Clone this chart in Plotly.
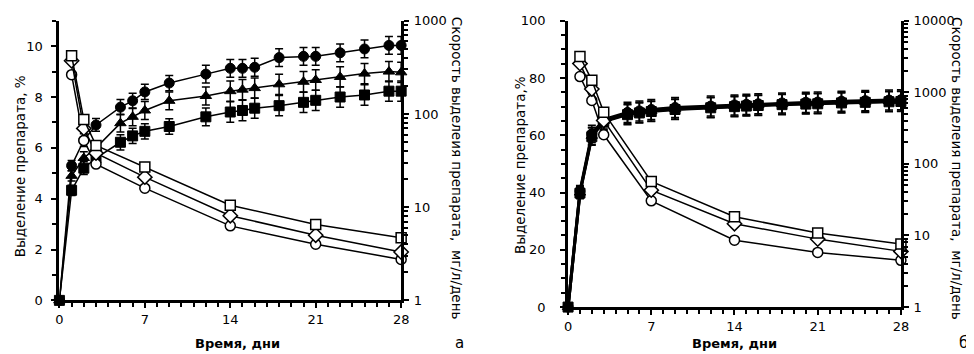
import plotly.graph_objects as go

W, H = 974, 354

# ---------------- data ----------------
days_cum = [0, 1, 2, 3, 5, 6, 7, 9, 12, 14, 15, 16, 18, 20, 21, 23, 25, 27, 28]
days_rate = [1, 2, 3, 7, 14, 21, 28]

# panel a: cumulative release, %
a_circ = [0, 5.3, 6.3, 6.9, 7.6, 7.85, 8.2, 8.55, 8.9, 9.13, 9.13, 9.17, 9.55, 9.6, 9.6, 9.74, 9.89, 10.03, 10.03]
a_tri = [0, 4.9, 5.6, 6.0, 6.97, 7.22, 7.47, 7.85, 8.04, 8.23, 8.29, 8.35, 8.5, 8.6, 8.67, 8.79, 8.92, 9.0, 8.97]
a_sq = [0, 4.33, 5.2, 5.6, 6.22, 6.47, 6.65, 6.84, 7.22, 7.41, 7.47, 7.56, 7.66, 7.79, 7.87, 8.0, 8.08, 8.23, 8.23]
a_circ_err = [0, 0.2, 0.25, 0.25, 0.3, 0.3, 0.3, 0.3, 0.35, 0.35, 0.35, 0.35, 0.35, 0.35, 0.35, 0.35, 0.35, 0.35, 0.35]
a_tri_err = [0, 0.2, 0.25, 0.25, 0.35, 0.35, 0.35, 0.35, 0.35, 0.4, 0.4, 0.4, 0.4, 0.4, 0.4, 0.4, 0.4, 0.4, 0.4]
a_sq_err = [0, 0.2, 0.25, 0.25, 0.3, 0.3, 0.3, 0.3, 0.35, 0.4, 0.4, 0.4, 0.4, 0.4, 0.4, 0.4, 0.4, 0.4, 0.4]

# panel a: release rate, mg/l/day
a_rate_sq = [422, 87, 46, 27, 10.5, 6.5, 4.7]
a_rate_dia = [372, 70, 38, 21, 8.1, 5.0, 3.3]
a_rate_circ = [264, 52, 29, 16, 6.3, 4.0, 2.75]

# panel b: cumulative release, %
b_circ = [0, 40.5, 60.5, 65.5, 68, 68.5, 69, 69.7, 70.2, 70.6, 70.8, 71, 71.3, 71.5, 71.6, 71.9, 72.1, 72.3, 72.4]
b_tri = [0, 40, 59.8, 65, 67.5, 68, 68.5, 69.2, 69.8, 70.2, 70.4, 70.6, 70.9, 71.1, 71.2, 71.5, 71.7, 71.9, 72]
b_sq = [0, 39.8, 59.5, 64.8, 67.2, 67.8, 68.3, 69, 69.6, 70, 70.2, 70.4, 70.7, 70.9, 71, 71.3, 71.5, 71.7, 71.8]
b_err = [0, 2, 3, 3, 3.5, 3.5, 3.5, 3.5, 3.5, 3.5, 3.5, 3.5, 3.5, 3.5, 3.5, 3.5, 3.5, 3.5, 3.5]

# panel b: release rate, mg/l/day
b_rate_sq = [3170, 1470, 525, 57, 18.3, 10.8, 7.6]
b_rate_dia = [2520, 1110, 405, 43, 14.6, 8.9, 6.0]
b_rate_circ = [1660, 770, 255, 30.5, 8.6, 5.8, 4.5]

x_ticks = [0, 7, 14, 21, 28]
left_title_a = "Выделение препарата, %"
left_title_b = "Выделение препарата,%"
right_title = "Скорость выделеия препарата,  мг/л/день"
x_title = "Время, дни"
panel_labels = ["а", "б"]

FONT = "DejaVu Sans"

fig = go.Figure()


def cum_trace(x, y, err, symbol, xa, ya, lw):
    return go.Scatter(
        x=x, y=y, xaxis=xa, yaxis=ya, mode="lines+markers", cliponaxis=False,
        line=dict(color="black", width=lw),
        marker=dict(symbol=symbol, size=10, color="black", line=dict(color="black", width=1)),
        error_y=dict(type="data", array=err, visible=True, color="black", thickness=1.5, width=4),
        showlegend=False)


def rate_trace(x, y, symbol, xa, ya, size=10):
    return go.Scatter(
        x=x, y=y, xaxis=xa, yaxis=ya, mode="lines+markers", cliponaxis=False,
        line=dict(color="black", width=1.5),
        marker=dict(symbol=symbol, size=size, color="white", line=dict(color="black", width=1.5)),
        showlegend=False)


# panel a
fig.add_trace(cum_trace(days_cum, a_sq, a_sq_err, "square", "x", "y", 1.5))
fig.add_trace(cum_trace(days_cum, a_tri, a_tri_err, "triangle-up", "x", "y", 1.5))
fig.add_trace(cum_trace(days_cum, a_circ, a_circ_err, "circle", "x", "y", 1.5))
fig.add_trace(rate_trace(days_rate, a_rate_circ, "circle", "x", "y2"))
fig.add_trace(rate_trace(days_rate, a_rate_dia, "diamond", "x", "y2", 11))
fig.add_trace(rate_trace(days_rate, a_rate_sq, "square", "x", "y2"))

# panel b
fig.add_trace(cum_trace(days_cum, b_sq, b_err, "square", "x2", "y3", 3))
fig.add_trace(cum_trace(days_cum, b_tri, b_err, "triangle-up", "x2", "y3", 3))
fig.add_trace(cum_trace(days_cum, b_circ, b_err, "circle", "x2", "y3", 3))
fig.add_trace(rate_trace(days_rate, b_rate_circ, "circle", "x2", "y4"))
fig.add_trace(rate_trace(days_rate, b_rate_dia, "diamond", "x2", "y4", 11))
fig.add_trace(rate_trace(days_rate, b_rate_sq, "square", "x2", "y4"))

tickfont = dict(family=FONT, size=13, color="black")
axline = dict(showline=True, linecolor="black", linewidth=3, showgrid=False, zeroline=False,
              ticks="outside", ticklen=5, tickwidth=2, tickcolor="black", tickfont=tickfont,
              ticklabeloverflow="allow")
minor_x = dict(ticks="outside", ticklen=4, tickwidth=2, tickcolor="black", dtick=1, showgrid=False)
minor_log = dict(ticks="outside", ticklen=4, tickwidth=2, tickcolor="black", dtick="D1", showgrid=False)

xa_dom = [48 / W, 394 / W]
xb_dom = [563 / W, 900 / W]
ya_dom = [(H - 298) / H, (H - 6) / H]
yb_dom = [(H - 305) / H, (H - 6) / H]

fig.update_layout(
    width=W, height=H, margin=dict(l=0, r=0, t=0, b=0),
    paper_bgcolor="white", plot_bgcolor="white",
    xaxis=dict(domain=xa_dom, range=[0, 28], anchor="y", tickvals=x_ticks, minor=minor_x,
               ticklabelstandoff=0, **axline),
    yaxis=dict(domain=ya_dom, range=[0, 11], anchor="x", dtick=2, ticklabelstandoff=6,
               minor=dict(ticks="outside", ticklen=4, tickwidth=2, tickcolor="black", dtick=1, showgrid=False), **axline),
    yaxis2=dict(overlaying="y", anchor="x", side="right", type="log", range=[0, 3], dtick=1,
                tickformat="d", ticklabelstandoff=2, minor=minor_log, **axline),
    xaxis2=dict(domain=xb_dom, range=[0, 28], anchor="y3", tickvals=x_ticks, minor=minor_x,
                ticklabelstandoff=0, **axline),
    yaxis3=dict(domain=yb_dom, range=[0, 100], anchor="x2", dtick=20, ticklabelstandoff=12,
                minor=dict(ticks="outside", ticklen=4, tickwidth=2, tickcolor="black", dtick=5, showgrid=False), **axline),
    yaxis4=dict(overlaying="y3", anchor="x2", side="right", type="log", range=[0, 4], dtick=1,
                tickformat="d", ticklabelstandoff=2, minor=minor_log, **axline),
)

ann = []
tfont = dict(family=FONT, size=13.5, color="black")
rfont = dict(family=FONT, size=13.5, color="black")
common = dict(xref="paper", yref="paper", showarrow=False, xanchor="center", yanchor="middle")
ann.append(dict(text=left_title_a, x=8 / W, y=(H - 158) / H, textangle=-90, font=tfont, **common))
ann.append(dict(text=left_title_b, x=515 / W, y=(H - 157) / H, textangle=-90, font=tfont, **common))
ann.append(dict(text=right_title, x=450 / W, y=(H - 160) / H, textangle=90, font=rfont, **common))
ann.append(dict(text=right_title, x=957 / W, y=(H - 160) / H, textangle=90, font=rfont, **common))
ann.append(dict(text="<b>" + x_title + "</b>", x=228 / W, y=(H - 343) / H,
                font=dict(family=FONT, size=13, color="black"), **common))
ann.append(dict(text="<b>" + x_title + "</b>", x=732 / W, y=(H - 343) / H,
                font=dict(family=FONT, size=13, color="black"), **common))
ann.append(dict(text=panel_labels[0], x=453 / W, y=(H - 343) / H,
                font=dict(family=FONT, size=15, color="black"), **common))
ann.append(dict(text=panel_labels[1], x=963 / W, y=(H - 343) / H,
                font=dict(family=FONT, size=15, color="black"), **common))
fig.update_layout(annotations=ann)

fig.write_html("out.html")
